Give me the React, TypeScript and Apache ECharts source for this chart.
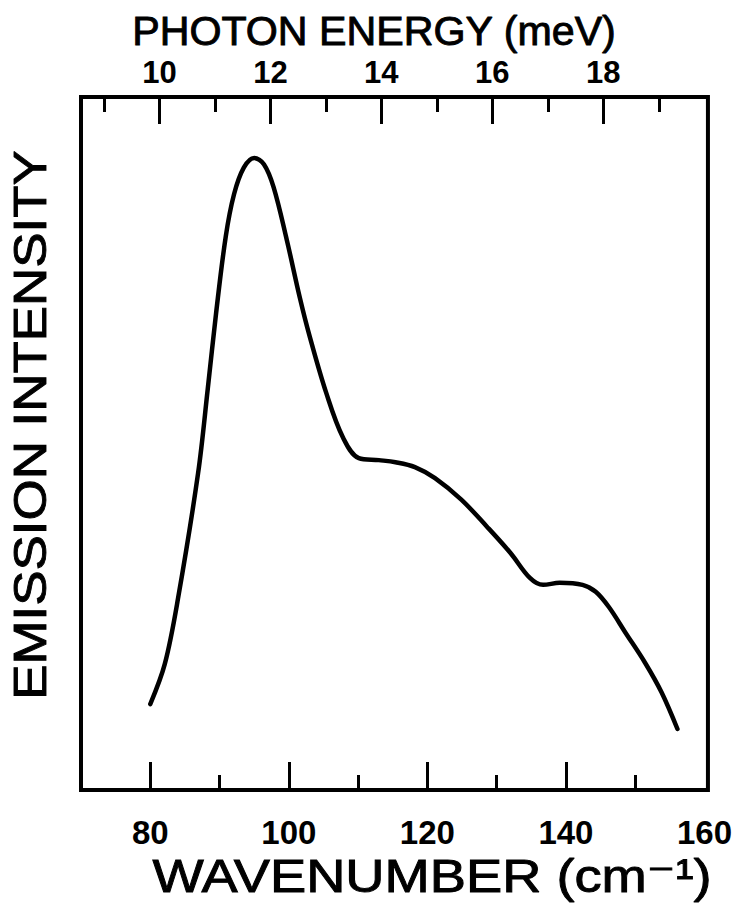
import React, { useEffect, useRef } from "react";
import * as echarts from "echarts";

// Emission spectrum (x in cm^-1, intensity in arbitrary units, box = 0..100)
const wavenumber = [80.0, 82.1, 84.0, 86.9, 88.3, 89.5, 90.9, 92.1, 93.5, 95.0, 96.4, 97.8, 99.7, 101.6, 103.0, 105.4, 107.8, 110.1, 113.0, 115.4, 118.2, 121.1, 124.9, 128.6, 132.0, 134.8, 136.7, 139.1, 142.4, 144.3, 146.2, 148.6, 151.4, 153.8, 156.1];
const intensity = [12.4, 18.2, 27.6, 45.7, 57.9, 68.8, 79.9, 86.0, 89.8, 91.2, 90.3, 87.0, 79.4, 71.0, 65.5, 57.3, 50.9, 47.9, 47.6, 47.3, 46.6, 45.0, 41.9, 38.0, 34.2, 30.6, 29.6, 29.9, 29.6, 28.6, 26.4, 22.7, 18.4, 14.1, 8.8];

// Bottom axis (wavenumber, cm^-1)
const wnMajorTicks = [80, 100, 120, 140];
const wnMinorTicks = [90, 110, 130, 150];
const wnLabels = [80, 100, 120, 140, 160];
// Top axis (photon energy, meV)
const meVMajorTicks = [10, 12, 14, 16, 18];
const meVMinorTicks = [9, 11, 13, 15, 17, 19];
const meVLabels = [10, 12, 14, 16, 18];

const titleTop = "PHOTON ENERGY (meV)";
const titleBottom = "WAVENUMBER (cm⁻¹)";
const titleLeft = "EMISSION INTENSITY";

const FONT = "'Liberation Sans', 'DejaVu Sans', Arial, sans-serif";

export default function App() {
  const ref = useRef<HTMLDivElement>(null);
  useEffect(() => {
    document.body.style.margin = "0";
    const chart = echarts.init(ref.current!, null, { renderer: "svg" });
    const labelStyle = {
      fontFamily: FONT,
      fontWeight: "bold" as const,
      fontSize: 33,
      color: "#000",
    };
    const titleStyle = {
      fontFamily: FONT,
      fontWeight: "normal" as const,
      fill: "#000",
      stroke: "#000",
      lineWidth: 0.9,
      align: "center" as const,
      verticalAlign: "middle" as const,
    };
    const wnMin = 70, wnMax = 160.5;
    const evMin = 8.587, evMax = 19.886;
    chart.setOption({
      animation: false,
      backgroundColor: "#fff",
      grid: {
        left: 81,
        right: 18,
        top: 97,
        bottom: 119,
        show: true,
        borderColor: "#000",
        borderWidth: 4,
        backgroundColor: "transparent",
      },
      xAxis: [
        {
          type: "value",
          position: "bottom",
          min: wnMin,
          max: wnMax,
          axisLine: { show: false },
          splitLine: { show: false },
          axisTick: {
            show: true,
            inside: true,
            length: 28,
            lineStyle: { color: "#000", width: 3 },
            customValues: wnMajorTicks,
          },
          axisLabel: {
            show: true,
            margin: 26,
            customValues: wnLabels,
            ...labelStyle,
          },
        },
        {
          type: "value",
          position: "bottom",
          min: wnMin,
          max: wnMax,
          axisLine: { show: false },
          splitLine: { show: false },
          axisTick: {
            show: true,
            inside: true,
            length: 15,
            lineStyle: { color: "#000", width: 3 },
            customValues: wnMinorTicks,
          },
          axisLabel: { show: false },
        },
        {
          type: "value",
          position: "top",
          min: evMin,
          max: evMax,
          axisLine: { show: false },
          splitLine: { show: false },
          axisTick: {
            show: true,
            inside: true,
            length: 27,
            lineStyle: { color: "#000", width: 3 },
            customValues: meVMajorTicks,
          },
          axisLabel: {
            show: true,
            margin: 9,
            customValues: meVLabels,
            ...labelStyle,
            fontSize: 31,
          },
        },
        {
          type: "value",
          position: "top",
          min: evMin,
          max: evMax,
          axisLine: { show: false },
          splitLine: { show: false },
          axisTick: {
            show: true,
            inside: true,
            length: 15,
            lineStyle: { color: "#000", width: 3 },
            customValues: meVMinorTicks,
          },
          axisLabel: { show: false },
        },
      ],
      yAxis: {
        type: "value",
        min: 0,
        max: 100,
        axisLine: { show: false },
        axisTick: { show: false },
        axisLabel: { show: false },
        splitLine: { show: false },
      },
      series: [
        {
          type: "line",
          xAxisIndex: 0,
          data: wavenumber.map((x, i) => [x, intensity[i]]),
          smooth: 0.35,
          showSymbol: false,
          lineStyle: { color: "#000", width: 4.5, cap: "round", join: "round" },
        },
      ],
      graphic: [
        {
          type: "text",
          x: 374,
          y: 31,
          scaleX: 1.03,
          style: { ...titleStyle, text: titleTop, fontSize: 40 },
        },
        {
          type: "text",
          x: 432,
          y: 876,
          scaleX: 1.18,
          style: { ...titleStyle, text: titleBottom, fontSize: 46 },
        },
        {
          type: "text",
          x: 30,
          y: 425,
          rotation: Math.PI / 2,
          scaleX: 1.15,
          style: { ...titleStyle, text: titleLeft, fontSize: 46 },
        },
      ],
    });
    return () => chart.dispose();
  }, []);
  return <div ref={ref} style={{ width: 735, height: 909 }} />;
}
